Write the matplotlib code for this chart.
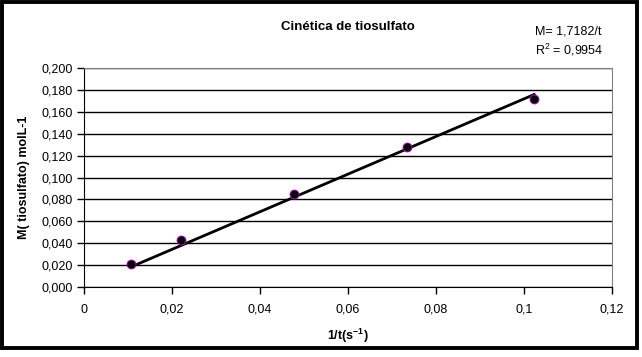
import matplotlib
matplotlib.use('Agg')
import matplotlib.pyplot as plt
from matplotlib.ticker import MultipleLocator, FuncFormatter
from matplotlib.patches import Rectangle

plt.rcParams['font.family'] = ['Liberation Sans', 'DejaVu Sans']
plt.rcParams['mathtext.default'] = 'regular'

# data
inv_t = [0.0106, 0.0221, 0.0478, 0.0733, 0.1023]
conc = [0.021, 0.043, 0.085, 0.128, 0.172]
slope = 1.7182
r2 = 0.9954

fig = plt.figure(figsize=(6.42, 3.57), dpi=100)
ax = fig.add_axes([84/642, 1 - 287/357, 528/642, 219/357])

# trend line through origin, drawn over the data range
tx = [min(inv_t), max(inv_t)]
ty = [slope * v for v in tx]
ax.plot(tx, ty, color='black', lw=2, zorder=3)
ax.scatter(inv_t, conc, s=42, color='black', edgecolors='#d000d0', linewidths=0.6, zorder=4)

ax.set_xlim(0, 0.12)
ax.set_ylim(0, 0.2)
ax.xaxis.set_major_locator(MultipleLocator(0.02))
ax.yaxis.set_major_locator(MultipleLocator(0.02))
ax.xaxis.set_major_formatter(FuncFormatter(lambda v, p: f"{v:g}".replace('.', ',')))
ax.yaxis.set_major_formatter(FuncFormatter(lambda v, p: f"{v:.3f}".replace('.', ',')))
ax.tick_params(labelsize=9, length=5, width=1, color='black', direction='out', pad=3)
ax.tick_params(axis='x', pad=7)

ax.grid(axis='y', color='black', lw=1)
ax.set_axisbelow(True)
for s in ['left', 'bottom']:
    ax.spines[s].set_color('black')
for s in ['top', 'right']:
    ax.spines[s].set_color('gray')

ax.set_xlabel('1/t(s$^{-1}$)', fontsize=9, fontweight='bold', labelpad=8)
ax.set_ylabel('M( tiosulfato) molL-1', fontsize=9, fontweight='bold', labelpad=8)
fig.text(348/642, 1 - 27/357, 'Cinética de tiosulfato', fontsize=9.5, fontweight='bold',
         ha='center', va='center')
fig.text(535/642, 1 - 32/357, f"M= {slope:.4f}/t".replace('.', ','), fontsize=9, va='center')
fig.text(535/642, 1 - 50/357, f"R$^2$ = {r2:.4f}".replace('.', ','), fontsize=9, va='center')

fig.patches.append(Rectangle((2/642, 1 - 348/357), 635/642, 346/357, transform=fig.transFigure,
                             fill=False, edgecolor='black', lw=2.8))

fig.savefig('out.png', dpi=100)
